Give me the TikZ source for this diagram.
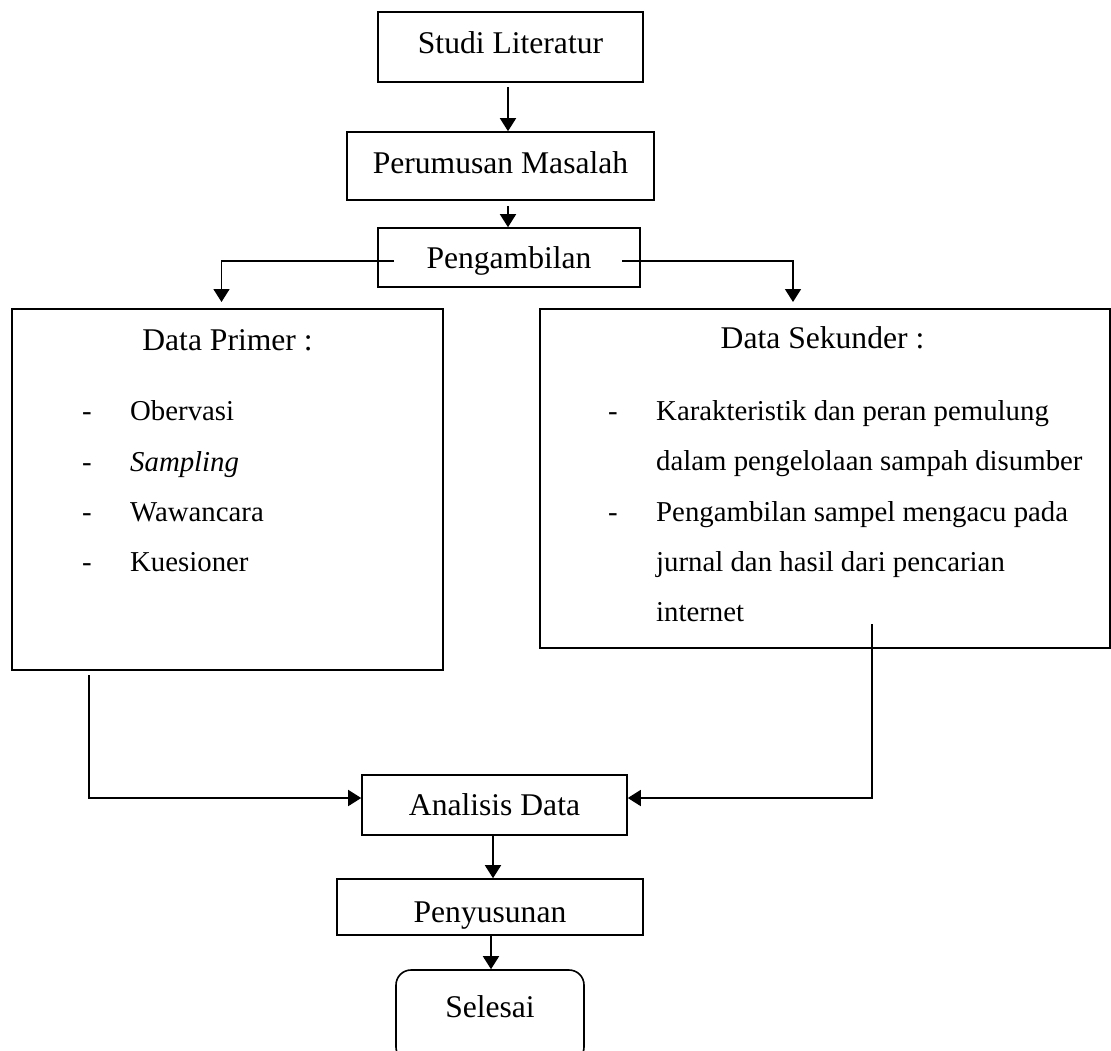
\documentclass[tikz,border=0pt]{standalone}
\usepackage{fontspec}
\setmainfont{Liberation Serif}
\usetikzlibrary{arrows.meta}
\begin{document}
\begin{tikzpicture}[x=1pt,y=-1pt,
  box/.style={draw, line width=1.6pt, rectangle, inner sep=0pt},
  lbl/.style={anchor=base, inner sep=0pt, font=\fontsize{31.6}{38}\selectfont},
  itm/.style={anchor=base west, inner sep=0pt, font=\fontsize{28.8}{35}\selectfont},
  arr/.style={line width=1.6pt, -{Triangle[length=13pt,width=16pt]}},
  ln/.style={line width=1.6pt}]
\useasboundingbox (0,0) rectangle (1111,1050);
\clip (0,0) rectangle (1111,1050);
\fill[white] (0,0) rectangle (1111,1050);

% boxes
\node[box, minimum width=265pt, minimum height=70pt] (studi) at (510.5,47) {};
\node[lbl] (studiT) at (510.5,53) {Studi Literatur};
\node[box, minimum width=307pt, minimum height=68pt] (perum) at (500.5,166) {};
\node[lbl] (perumT) at (500.5,173) {Perumusan Masalah};
\node[box, minimum width=262pt, minimum height=59pt] (peng) at (509,257.5) {};
\node[lbl] (pengT) at (509,268) {Pengambilan};

\node[box, minimum width=431pt, minimum height=361pt] (primer) at (227.5,489.5) {};
\node[lbl] (primT) at (227.5,350) {Data Primer :};
\node[itm] (p1d) at (82,420) {-};
\node[itm] (p1) at (130,420) {Obervasi};
\node[itm] (p2d) at (82,471) {-};
\node[itm] (p2) at (130,471) {\itshape Sampling};
\node[itm] (p3d) at (82,521) {-};
\node[itm] (p3) at (130,521) {Wawancara};
\node[itm] (p4d) at (82,571) {-};
\node[itm] (p4) at (130,571) {Kuesioner};

\node[box, minimum width=570pt, minimum height=339pt] (sekunder) at (825,478.5) {};
\node[lbl] (sekT) at (822.5,348) {Data Sekunder :};
\node[itm] (s1d) at (608,420) {-};
\node[itm] (s1) at (656,420) {Karakteristik dan peran pemulung};
\node[itm] (s2) at (656,470) {dalam pengelolaan sampah disumber};
\node[itm] (s3d) at (608,521) {-};
\node[itm] (s3) at (656,521) {Pengambilan sampel mengacu pada};
\node[itm] (s4) at (656,571) {jurnal dan hasil dari pencarian};
\node[itm] (s5) at (656,621) {internet};

\node[box, minimum width=265pt, minimum height=60pt] (analisis) at (494.5,805) {};
\node[lbl] (analisisT) at (494.5,815) {Analisis Data};
\node[box, minimum width=306pt, minimum height=56pt] (peny) at (490,907) {};
\node[lbl] (penyT) at (490,922) {Penyusunan};
\node[box, rounded corners=15pt, minimum width=188pt, minimum height=92pt] (sel) at (490,1016) {};
\node[lbl] (selT) at (490,1017) {Selesai};

% connectors
\draw[arr] ([xshift=-2.5pt,yshift=-4pt]studi.south) -- ([xshift=-2.5pt]studi.south |- perum.north);
\draw[arr] ([xshift=7.5pt,yshift=-5pt]perum.south) -- ([xshift=7.5pt]perum.south |- peng.north);

\coordinate (pl) at (394,261);
\coordinate (plEnd) at (221.5,302);
\coordinate (pr) at (622,261);
\coordinate (prEnd) at (793,302);
\draw[arr] (pl) -| (plEnd);
\draw[arr] (pr) -| (prEnd);

\coordinate (pa) at (89,675);
\coordinate (sa) at (872,624);
\draw[arr] (pa) |- ([yshift=7pt]analisis.west);
\draw[arr] (sa) |- ([yshift=7pt]analisis.east);

\draw[arr] ([xshift=-1.5pt]analisis.south) -- ([xshift=-1.5pt]analisis.south |- peny.north);
\draw[arr] ([xshift=1pt]peny.south) -- ([xshift=1pt]peny.south |- sel.north);
\end{tikzpicture}
\end{document}
